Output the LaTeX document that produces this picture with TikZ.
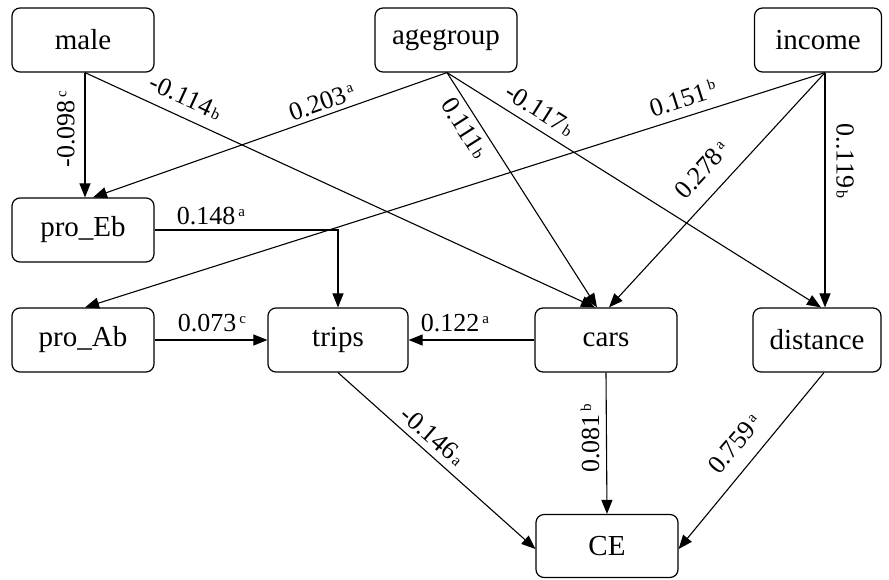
\documentclass[tikz,border=0pt]{standalone}
\usepackage{fontspec}
\setmainfont{Liberation Serif}
\usetikzlibrary{arrows.meta,calc}
\newcommand\mysup[1]{\hspace{3pt}\raisebox{8pt}{\fontsize{15}{15}\selectfont #1}}
\newcommand\mylow[1]{\hspace{2pt}{\fontsize{16}{16}\selectfont #1}}
\begin{document}
\begin{tikzpicture}[x=1pt,y=-1pt,
  box/.style={draw, line width=1.2pt, rounded corners=8pt, minimum height=64pt,
    minimum width=142pt, inner sep=0pt, font=\fontsize{29}{32}\selectfont},
  conn/.style={line width=1.1pt, -{Triangle[length=14pt,width=11pt]}},
  lab/.style={font=\fontsize{26}{28}\selectfont, inner sep=0pt, anchor=center}]
\useasboundingbox (0,0) rectangle (889,579);
\fill[white] (0,0) rectangle (889,579);
% nodes
\node[box] (male) at (83,40) {male};
\node[box] (agegroup) at (446,40) {agegroup};
\node[box, minimum width=127pt] (income) at (818,40) {income};
\node[box] (proEb) at (83,230) {pro\_Eb};
\node[box] (proAb) at (83,340) {pro\_Ab};
\node[box, minimum width=140pt] (trips) at (338,340) {trips};
\node[box] (cars) at (606,340) {cars};
\node[box, minimum width=128pt] (distance) at (817,340) {distance};
\node[box, minimum height=63pt] (CE) at (607,546) {CE};
% connectors
\draw[conn] ([xshift=2pt]male.south) -- ([xshift=2pt]proEb.north);
\draw[conn] ([xshift=2pt]male.south) -- ([xshift=-11pt]cars.north);
\draw[conn] ([xshift=1pt]agegroup.south) -- ([xshift=10pt]proEb.north);
\draw[conn] ([xshift=1pt]agegroup.south) -- ([xshift=-9pt]cars.north);
\draw[conn] ([xshift=1pt]agegroup.south) -- ([xshift=4pt]distance.north);
\draw[conn] ([xshift=7pt]income.south) -- ([xshift=2pt]proAb.north);
\draw[conn] ([xshift=7pt]income.south) -- ([xshift=3pt]cars.north);
\draw[conn] ([xshift=7pt]income.south) -- ([xshift=8pt]distance.north);
\draw[conn] (proEb.east) -- (proEb.east -| trips.north) -- (trips.north);
\draw[conn] (proAb.east) -- (trips.west);
\draw[conn] (cars.west) -- (trips.east);
\draw[conn] (trips.south) -- ([yshift=-3pt]CE.west);
\draw[conn] (cars.south) -- (CE.north);
\draw[conn] ([xshift=7pt]distance.south) -- ([yshift=-3pt]CE.east);
% labels
\node[lab, rotate=90] (l1) at (66,129) {-0.098\mysup{c}};
\node[lab, rotate=-24.8] (l2) at (186,97) {-0.114\mylow{b}};
\node[lab, rotate=19.6] (l3) at (322,102) {0.203\mysup{a}};
\node[lab, rotate=-57.6] (l4) at (465,128) {0.111\mylow{b}};
\node[lab, rotate=-32.3] (l5) at (540,110) {-0.117\mylow{b}};
\node[lab, rotate=17.7] (l6) at (683,98) {0.151\mysup{b}};
\node[lab, rotate=47.5] (l7) at (702,170) {0.278\mysup{a}};
\node[lab, rotate=-90] (l8) at (845,161) {0..119\mylow{b}};
\node[lab] (l9) at (211,216) {0.148\mysup{a}};
\node[lab] (l10) at (212,323) {0.073\mysup{c}};
\node[lab] (l11) at (455,323) {0.122\mysup{a}};
\node[lab, rotate=-41] (l12) at (433,436) {-0.146\mylow{a}};
\node[lab, rotate=90] (l13) at (590,438) {0.081\mysup{b}};
\node[lab, rotate=49.3] (l14) at (735,444) {0.759\mysup{a}};
\end{tikzpicture}
\end{document}
